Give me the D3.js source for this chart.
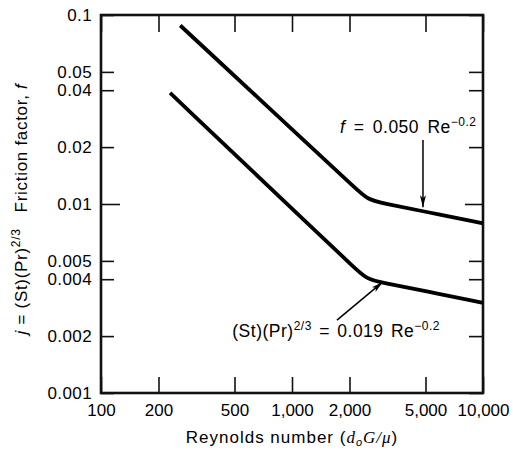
<!DOCTYPE html>
<html>
<head>
<meta charset="utf-8">
<script src="https://cdn.jsdelivr.net/npm/d3@7"></script>
<style>
  body { margin: 0; background: #fff; }
  text { font-family: "Liberation Sans", Arial, Helvetica, sans-serif; fill: #000; }
</style>
</head>
<body>
<div class="chart"></div>
<script>
// values
const xTicks = [100, 200, 500, 1000, 2000, 5000, 10000];
const xTickLabels = ["100", "200", "500", "1,000", "2,000", "5,000", "10,000"];
const yTicks = [0.1, 0.05, 0.04, 0.02, 0.01, 0.005, 0.004, 0.002, 0.001];
const yTickLabels = ["0.1", "0.05", "0.04", "0.02", "0.01", "0.005", "0.004", "0.002", "0.001"];

// friction factor f (upper curve)
const reF = [260, 1500, 2100, 2500, 3000, 5000, 10000];
const fVals = [0.088, 0.0170, 0.0124, 0.0105, 0.0101, 0.0091, 0.0079];
// colburn j (lower curve)
const reJ = [230, 1500, 2100, 2470, 3000, 5000, 10000];
const jVals = [0.0387, 0.00641, 0.00465, 0.00399, 0.00383, 0.00346, 0.0030];

const W = 513, H = 450;
const margin = ({ top: 15, right: 30, bottom: 57, left: 101 });

const svg = d3.select(".chart")
    .append("svg")
    .attr("width", W)
    .attr("height", H);

const x = d3.scaleLog().domain([100, 10000]).range([margin.left, W - margin.right]);
const y = d3.scaleLog().domain([0.001, 0.1]).range([H - margin.bottom, margin.top]);

const x0 = x.range()[0], x1 = x.range()[1];
const y0 = y.range()[0], y1 = y.range()[1];

/*axes, ticks pointing inward*/
const fmtY = d => yTickLabels[yTicks.indexOf(d)];
const fmtX = d => xTickLabels[xTicks.indexOf(d)];

const axLeft = svg.append("g")
    .attr("transform", `translate(${x0},0)`)
    .call(d3.axisLeft(y).tickValues(yTicks).tickFormat(fmtY).tickSize(-13).tickSizeOuter(0).tickPadding(9));
const axRight = svg.append("g")
    .attr("transform", `translate(${x1},0)`)
    .call(d3.axisRight(y).tickValues(yTicks).tickFormat("").tickSize(-14).tickSizeOuter(0));
const axBottom = svg.append("g")
    .attr("transform", `translate(0,${y0})`)
    .call(d3.axisBottom(x).tickValues(xTicks).tickFormat(fmtX).tickSize(-16).tickSizeOuter(0).tickPadding(11));
const axTop = svg.append("g")
    .attr("transform", `translate(0,${y1})`)
    .call(d3.axisTop(x).tickValues(xTicks).tickFormat("").tickSize(-17).tickSizeOuter(0));

[axLeft, axRight, axBottom, axTop].forEach(g => {
    g.select(".domain").remove();
    g.selectAll("line").attr("stroke", "#111").attr("stroke-width", 1.6);
    g.selectAll("text").attr("font-size", "17px").attr("fill", "#000")
        .attr("font-family", '"Liberation Sans", Arial, sans-serif');
});
axLeft.selectAll("text").attr("letter-spacing", "0.4px");
// longer tick at 0.01
axLeft.selectAll(".tick").filter(d => d === 0.01).select("line").attr("x2", 19);
axRight.selectAll(".tick").filter(d => d === 0.01).select("line").attr("x2", -18);

svg.append("rect")
    .attr("x", x0).attr("y", y1)
    .attr("width", x1 - x0).attr("height", y0 - y1)
    .attr("fill", "none").attr("stroke", "#111").attr("stroke-width", 2.6);

/*curves*/
const line = d3.line()
    .x(d => x(d[0]))
    .y(d => y(d[1]))
    .curve(d3.curveBasis);

svg.append("path")
    .attr("d", line(reF.map((r, i) => [r, fVals[i]])))
    .attr("fill", "none").attr("stroke", "#000").attr("stroke-width", 3.8);

svg.append("path")
    .attr("d", line(reJ.map((r, i) => [r, jVals[i]])))
    .attr("fill", "none").attr("stroke", "#000").attr("stroke-width", 3.8);

/*arrows*/
svg.append("defs").append("marker")
    .attr("id", "head")
    .attr("viewBox", "0 0 12 6")
    .attr("refX", 12).attr("refY", 3)
    .attr("markerWidth", 12).attr("markerHeight", 6)
    .attr("markerUnits", "userSpaceOnUse")
    .attr("orient", "auto")
    .append("path")
    .attr("d", "M0,0 L12,3 L0,6 L3,3 Z")
    .attr("fill", "#000");

svg.append("line")
    .attr("x1", x(4850)).attr("y1", y(0.0218))
    .attr("x2", x(4850)).attr("y2", y(0.0096))
    .attr("stroke", "#000").attr("stroke-width", 1.5)
    .attr("marker-end", "url(#head)");

svg.append("line")
    .attr("x1", x(1720)).attr("y1", y(0.00243))
    .attr("x2", x(2990)).attr("y2", y(0.00387))
    .attr("stroke", "#000").attr("stroke-width", 1.5)
    .attr("marker-end", "url(#head)");

/*equation labels*/
const lf = svg.append("text")
    .attr("x", x(1783)).attr("y", y(0.0238))
    .attr("font-size", "17.5px")
    .attr("letter-spacing", "0.5px")
    .attr("word-spacing", "3px");
lf.append("tspan").attr("font-style", "italic").text("f");
lf.append("tspan").text(" = 0.050 Re");
lf.append("tspan").attr("dy", -7).attr("font-size", "12px").text("\u22120.2");

const lj = svg.append("text")
    .attr("x", x(5958)).attr("y", y(0.00198))
    .attr("text-anchor", "end")
    .attr("font-size", "17.5px")
    .attr("letter-spacing", "0.5px")
    .attr("word-spacing", "2px");
lj.append("tspan").text("(St)(Pr)");
lj.append("tspan").attr("dy", -7).attr("font-size", "12px").text("2/3");
lj.append("tspan").attr("dy", 7).text(" = 0.019 Re");
lj.append("tspan").attr("dy", -7).attr("font-size", "12px").text("\u22120.2");

/*axis titles*/
const xt = svg.append("text")
    .attr("x", 292).attr("y", 443)
    .attr("text-anchor", "middle")
    .attr("font-size", "17px")
    .attr("letter-spacing", "1px");
xt.append("tspan").text("Reynolds number (");
xt.append("tspan").attr("font-style", "italic").attr("font-family", '"Liberation Serif", serif').text("d");
xt.append("tspan").attr("dy", 3).attr("font-size", "11px").attr("font-style", "italic").text("o");
xt.append("tspan").attr("dy", -3).attr("font-style", "italic").attr("font-family", '"Liberation Serif", serif').text("G/\u03bc");
xt.append("tspan").text(")");

const yt = svg.append("text")
    .attr("transform", "translate(27,209) rotate(-90)")
    .attr("text-anchor", "middle")
    .attr("font-size", "17px")
    .attr("letter-spacing", "0.7px");
yt.append("tspan").attr("font-style", "italic").text("j");
yt.append("tspan").text(" = (St)(Pr)");
yt.append("tspan").attr("dy", -7).attr("font-size", "12px").text("2/3");
yt.append("tspan").attr("dy", 7).attr("dx", 16).text("Friction factor, ");
yt.append("tspan").attr("font-style", "italic").text("f");
</script>
</body>
</html>
